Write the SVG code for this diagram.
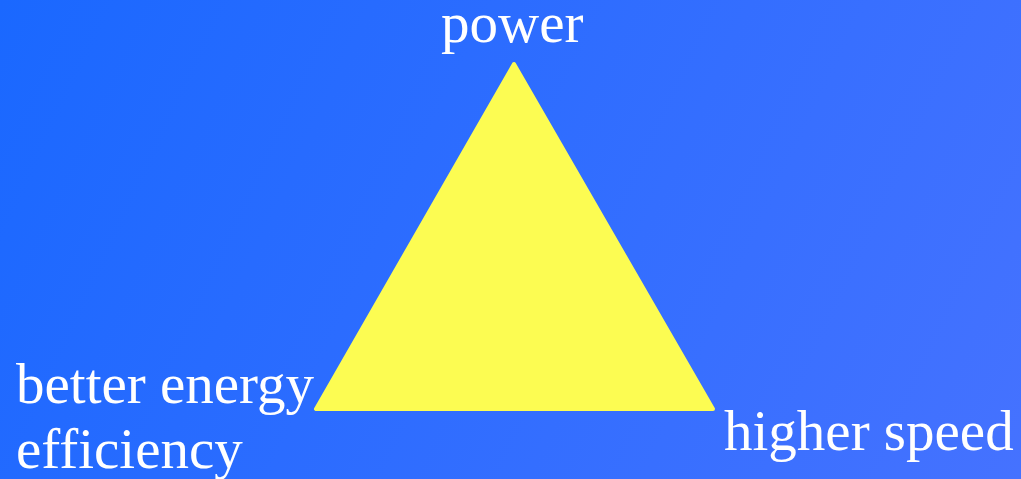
<svg xmlns="http://www.w3.org/2000/svg" width="1021" height="479" viewBox="0 0 1021 479">
  <defs>
    <linearGradient id="bg" x1="0" y1="0" x2="1021" y2="479" gradientUnits="userSpaceOnUse">
      <stop offset="0" stop-color="#1a68ff"/>
      <stop offset="1" stop-color="#4572ff"/>
    </linearGradient>
  </defs>
  <style>
    .lbl { font-family: "Liberation Serif", "Times New Roman", serif; font-size: 57px; fill: #ffffff; }
    .tri { fill: #fcfc52; stroke: #fcfc52; stroke-width: 4; stroke-linejoin: round; }
  </style>
  <rect x="0" y="0" width="1021" height="479" fill="url(#bg)"/>
  <g id="triangle">
    <polygon class="tri" points="514,64 316,409 713,409"/>
  </g>
  <g id="label-power">
    <text class="lbl" x="441" y="42">power</text>
  </g>
  <g id="label-efficiency">
    <text class="lbl" x="16" y="403">better energy</text>
    <text class="lbl" x="16" y="468">efficiency</text>
  </g>
  <g id="label-speed">
    <text class="lbl" x="724" y="450">higher speed</text>
  </g>
  <g id="connectors"></g>
</svg>
